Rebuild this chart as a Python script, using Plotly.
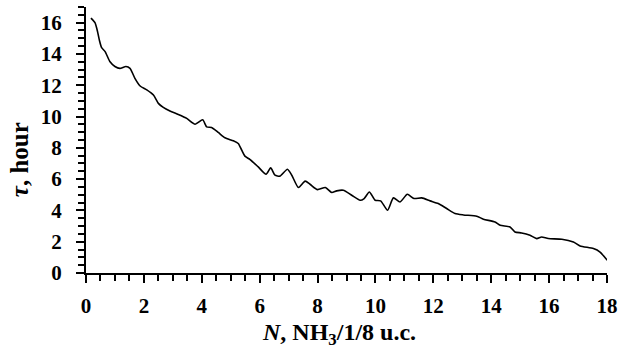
import plotly.graph_objects as go

N_vals = [0.17, 0.31, 0.39, 0.46, 0.54, 0.66, 0.83, 1.0, 1.17, 1.38, 1.52, 1.69, 1.87, 2.1, 2.33,
          2.5, 2.67, 2.9, 3.19, 3.48, 3.77, 4.03, 4.17, 4.34, 4.57, 4.8, 5.09, 5.26, 5.38, 5.49,
          5.67, 5.95, 6.22, 6.38, 6.53, 6.7, 6.96, 7.11, 7.34, 7.57, 7.74, 7.99, 8.27, 8.49, 8.66,
          8.89, 9.18, 9.47, 9.61, 9.79, 9.99, 10.18, 10.42, 10.62, 10.85, 11.1, 11.33, 11.6, 11.89,
          12.17, 12.46, 12.75, 13.04, 13.5, 13.73, 14.13, 14.31, 14.65, 14.82, 15.05, 15.34, 15.57,
          15.74, 15.97, 16.44, 16.84, 17.07, 17.53, 17.76, 18.01]
tau_vals = [16.29, 16.0, 15.5, 14.9, 14.4, 14.15, 13.5, 13.2, 13.08, 13.2, 13.08, 12.44, 11.95, 11.7,
            11.37, 10.84, 10.58, 10.35, 10.13, 9.88, 9.51, 9.79, 9.34, 9.3, 8.98, 8.64, 8.45, 8.28,
            7.85, 7.47, 7.25, 6.78, 6.31, 6.72, 6.25, 6.19, 6.63, 6.25, 5.46, 5.87, 5.67, 5.33, 5.46,
            5.14, 5.25, 5.29, 4.97, 4.65, 4.76, 5.18, 4.65, 4.61, 4.01, 4.8, 4.54, 5.03, 4.76, 4.8,
            4.61, 4.44, 4.12, 3.8, 3.71, 3.63, 3.44, 3.26, 3.05, 2.94, 2.62, 2.56, 2.41, 2.2, 2.3,
            2.2, 2.16, 1.98, 1.73, 1.56, 1.34, 0.81]

x_range = [0, 18]
y_range = [0, 17]
major_step = 2
minor_step = 0.5

FONT = "Liberation Serif"

fig = go.Figure()
fig.add_trace(go.Scatter(x=N_vals, y=tau_vals, mode="lines",
                         line=dict(color="black", width=1.6, shape="spline", smoothing=0.6),
                         showlegend=False, hoverinfo="skip"))

common = dict(
    showgrid=False, zeroline=False, showline=True, linecolor="black", linewidth=2,
    ticks="outside", ticklen=8, tickwidth=2, tickcolor="black", tickmode="linear", tick0=0,
    dtick=major_step,
    tickfont=dict(family=FONT, size=21, color="black", weight="bold"),
    minor=dict(ticks="outside", ticklen=6, tickwidth=2, tickcolor="black", dtick=minor_step,
               showgrid=False),
)

fig.update_layout(
    xaxis=dict(range=x_range, ticklabelstandoff=5, **common),
    yaxis=dict(range=y_range, ticklabelstandoff=10, **common),
)

fig.add_annotation(text="<i>N</i>, NH<sub>3</sub>/1/8 u.c.", xref="paper", yref="paper",
                   x=0.4856, y=-0.2307, xanchor="center", yanchor="middle", showarrow=False,
                   font=dict(family=FONT, size=24, color="black", weight="bold"))
fig.add_annotation(text="<i>τ</i>, hour", xref="paper", yref="paper",
                   x=-0.1286, y=0.428, xanchor="center", yanchor="middle", showarrow=False,
                   textangle=-90,
                   font=dict(family=FONT, size=25, color="black", weight="bold"))

fig.update_layout(width=629, height=352, margin=dict(l=86, r=22, t=7, b=79, pad=0),
                  plot_bgcolor="white", paper_bgcolor="white")

fig.write_html("out.html")
